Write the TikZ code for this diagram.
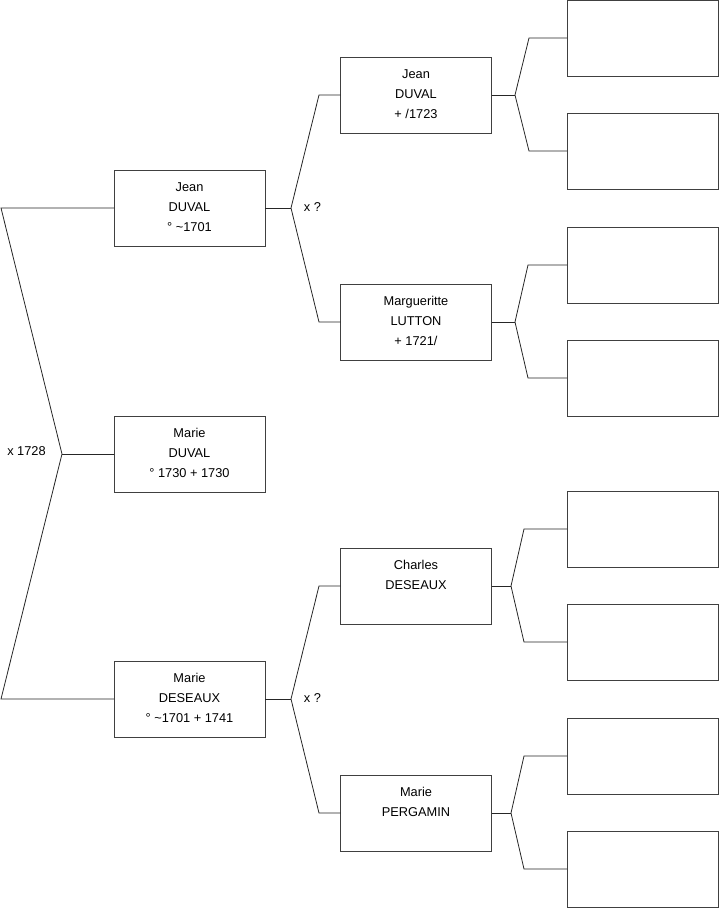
\documentclass[tikz,border=0pt]{standalone}
\usepackage{fontspec}
\setmainfont{Liberation Sans}
\begin{document}
\begin{tikzpicture}[x=1pt,y=-1pt,
  pbox/.style={draw=black!75,line width=0.8pt,rectangle,minimum width=151pt,minimum height=76pt,inner sep=0pt,outer sep=0pt},
  ptxt/.style={anchor=north,inner sep=0pt,align=center,font=\fontsize{12.8pt}{20pt}\selectfont,yshift=-12pt},
  conn/.style={draw=black!85,line width=0.8pt},
  lbl/.style={inner sep=0pt,font=\fontsize{12.8pt}{14pt}\selectfont}]
\useasboundingbox (0,0) rectangle (719,908);
% generation 1
\node[pbox] (A) at (189.5,208) {};
\node[pbox] (B) at (189.5,454) {};
\node[pbox] (C) at (189.5,699) {};
% generation 2
\node[pbox] (D) at (416,95) {};
\node[pbox] (E) at (416,322) {};
\node[pbox] (F) at (416,586) {};
\node[pbox] (G) at (416,813) {};
% generation 3
\node[pbox] (H1) at (642.5,38) {};
\node[pbox] (H2) at (642.5,151) {};
\node[pbox] (H3) at (642.5,265) {};
\node[pbox] (H4) at (642.5,378) {};
\node[pbox] (H5) at (642.5,529) {};
\node[pbox] (H6) at (642.5,642) {};
\node[pbox] (H7) at (642.5,756) {};
\node[pbox] (H8) at (642.5,869) {};
% texts
\node[ptxt] (tA) at (A.north) {Jean\\DUVAL\\° \textasciitilde 1701};
\node[ptxt] (tB) at (B.north) {Marie\\DUVAL\\° 1730 + 1730};
\node[ptxt] (tC) at (C.north) {Marie\\DESEAUX\\° \textasciitilde 1701 + 1741};
\node[ptxt] (tD) at (D.north) {Jean\\DUVAL\\+ /1723};
\node[ptxt] (tE) at (E.north) {Margueritte\\LUTTON\\+ 1721/};
\node[ptxt] (tF) at (F.north) {Charles\\DESEAUX};
\node[ptxt] (tG) at (G.north) {Marie\\PERGAMIN};
% fork coordinates
\coordinate (f0) at (62,454);
\coordinate (f0a) at (1,208);
\coordinate (f0c) at (1,699);
\coordinate (fA) at (291,208);
\coordinate (fAd) at (319,95);
\coordinate (fAe) at (319,322);
\coordinate (fC) at (291,699);
\coordinate (fCf) at (319,586);
\coordinate (fCg) at (319,813);
\coordinate (fD) at (515,95);
\coordinate (fD1) at (529,38);
\coordinate (fD2) at (529,151);
\coordinate (fE) at (515,322);
\coordinate (fE1) at (528,265);
\coordinate (fE2) at (528,378);
\coordinate (fF) at (511,586);
\coordinate (fF1) at (524,529);
\coordinate (fF2) at (524,642);
\coordinate (fG) at (511,813);
\coordinate (fG1) at (524,756);
\coordinate (fG2) at (524,869);
% connectors
\draw[conn] (A.west) -- (f0a) -- (f0) -- (f0c) -- (C.west);
\draw[conn] (f0) -- (B.west);
\draw[conn] (A.east) -- (fA);
\draw[conn] (D.west) -- (fAd) -- (fA) -- (fAe) -- (E.west);
\draw[conn] (C.east) -- (fC);
\draw[conn] (F.west) -- (fCf) -- (fC) -- (fCg) -- (G.west);
\draw[conn] (D.east) -- (fD);
\draw[conn] (H1.west) -- (fD1) -- (fD) -- (fD2) -- (H2.west);
\draw[conn] (E.east) -- (fE);
\draw[conn] (H3.west) -- (fE1) -- (fE) -- (fE2) -- (H4.west);
\draw[conn] (F.east) -- (fF);
\draw[conn] (H5.west) -- (fF1) -- (fF) -- (fF2) -- (H6.west);
\draw[conn] (G.east) -- (fG);
\draw[conn] (H7.west) -- (fG1) -- (fG) -- (fG2) -- (H8.west);
% labels
\node[lbl] (l1) at (26.5,451) {x 1728};
\node[lbl] (l2) at (312.5,207) {x ?};
\node[lbl] (l3) at (312.5,698) {x ?};
\end{tikzpicture}
\end{document}
